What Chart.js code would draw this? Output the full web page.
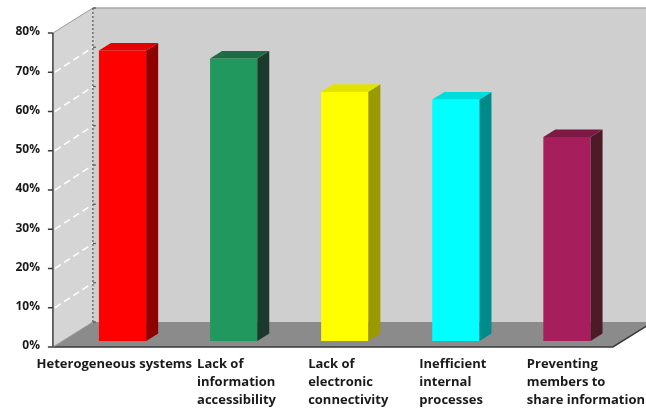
<!DOCTYPE html>
<html>
<head>
<meta charset="utf-8">
<script src="https://cdn.jsdelivr.net/npm/chart.js@4/dist/chart.umd.min.js"></script>
<style>
  html, body { margin: 0; padding: 0; background: #ffffff; }
  #chart { display: block; }
</style>
</head>
<body>
<canvas id="chart" width="646" height="412"></canvas>
<script>
// Problem categories (multi-line labels) and share of respondents (%)
const categories = [
  ['Heterogeneous systems'],
  ['Lack of', 'information', 'accessibility'],
  ['Lack of', 'electronic', 'connectivity'],
  ['Inefficient', 'internal', 'processes'],
  ['Preventing', 'members to', 'share information']
];
const values = [74, 72, 63.5, 61.5, 52];
const yTicks = [0, 10, 20, 30, 40, 50, 60, 70, 80];

// Face colours of each column: front, top, right side
const frontColors = ['#ff0000', '#21985d', '#ffff00', '#00ffff', '#a61e5c'];
const topColors   = ['#e40000', '#1c6c45', '#e2e200', '#00dcdc', '#7c1945'];
const sideColors  = ['#8f0000', '#1c3a2b', '#9a9a00', '#008a8a', '#4c1b27'];

const FONT = '"Open Sans", "Liberation Sans", sans-serif';

// Oblique projection offsets relative to the plane where the columns stand
const FRONT = { dx: -9.6, dy: 6 };    // front edge of floor / value axis
const BACK  = { dx: 30.4, dy: -19 };  // back wall
const BAR_DEPTH = { dx: 12, dy: 7.5 };

const box3d = {
  id: 'box3d',
  beforeDraw(chart) {
    const { ctx, chartArea: a, scales: { y } } = chart;
    const y0 = y.getPixelForValue(yTicks[0]);
    const yT = y.getPixelForValue(yTicks[yTicks.length - 1]);
    const L = a.left - 4.5;
    const R = a.right;
    ctx.save();

    // back wall
    ctx.fillStyle = '#cfcfcf';
    ctx.fillRect(L + BACK.dx, yT + BACK.dy, chart.width, y0 - yT);
    ctx.strokeStyle = '#a9a9a9';
    ctx.lineWidth = 1.5;
    ctx.beginPath();
    ctx.moveTo(L + BACK.dx, yT + BACK.dy);
    ctx.lineTo(chart.width, yT + BACK.dy);
    ctx.stroke();

    // left wall
    ctx.fillStyle = '#d5d5d5';
    ctx.beginPath();
    ctx.moveTo(L + FRONT.dx, y0 + FRONT.dy);
    ctx.lineTo(L + FRONT.dx, yT + FRONT.dy);
    ctx.lineTo(L + BACK.dx, yT + BACK.dy);
    ctx.lineTo(L + BACK.dx, y0 + BACK.dy);
    ctx.closePath();
    ctx.fill();
    ctx.strokeStyle = '#9a9a9a';
    ctx.lineWidth = 1;
    ctx.beginPath();
    ctx.moveTo(L + FRONT.dx, yT + FRONT.dy);
    ctx.lineTo(L + BACK.dx, yT + BACK.dy);
    ctx.stroke();

    // floor
    ctx.fillStyle = '#8b8b8b';
    ctx.beginPath();
    ctx.moveTo(L + FRONT.dx, y0 + FRONT.dy);
    ctx.lineTo(R + FRONT.dx, y0 + FRONT.dy);
    ctx.lineTo(R + BACK.dx, y0 + BACK.dy);
    ctx.lineTo(L + BACK.dx, y0 + BACK.dy);
    ctx.closePath();
    ctx.fill();
    ctx.strokeStyle = '#3a3a3a';
    ctx.lineWidth = 1.5;
    ctx.beginPath();
    ctx.moveTo(L + FRONT.dx, y0 + FRONT.dy);
    ctx.lineTo(R + FRONT.dx, y0 + FRONT.dy);
    ctx.lineTo(R + BACK.dx, y0 + BACK.dy);
    ctx.stroke();
    ctx.strokeStyle = '#9c9c9c';
    ctx.lineWidth = 1;
    ctx.beginPath();
    ctx.moveTo(L + FRONT.dx, y0 + FRONT.dy);
    ctx.lineTo(L + BACK.dx, y0 + BACK.dy);
    ctx.stroke();

    // gridlines across the left wall
    ctx.strokeStyle = '#ffffff';
    ctx.lineWidth = 1.5;
    ctx.setLineDash([7, 4]);
    yTicks.slice(1, -1).forEach(v => {
      const p = y.getPixelForValue(v);
      ctx.beginPath();
      ctx.moveTo(L + FRONT.dx + 2, p + FRONT.dy);
      ctx.lineTo(L + BACK.dx, p + BACK.dy);
      ctx.stroke();
    });

    // back wall axis (dotted) with short ticks
    ctx.strokeStyle = '#555555';
    ctx.lineWidth = 1.2;
    ctx.setLineDash([2, 2]);
    ctx.beginPath();
    ctx.moveTo(L + BACK.dx, yT + BACK.dy);
    ctx.lineTo(L + BACK.dx, y0 + BACK.dy);
    ctx.stroke();
    ctx.setLineDash([]);
    yTicks.forEach(v => {
      const p = y.getPixelForValue(v) + BACK.dy;
      ctx.beginPath();
      ctx.moveTo(L + BACK.dx, p);
      ctx.lineTo(L + BACK.dx + 3, p);
      ctx.stroke();
    });

    // front value axis
    ctx.strokeStyle = '#3c3c3c';
    ctx.lineWidth = 1.5;
    ctx.beginPath();
    ctx.moveTo(L + FRONT.dx, yT + FRONT.dy);
    ctx.lineTo(L + FRONT.dx, y0 + FRONT.dy);
    ctx.stroke();
    yTicks.forEach(v => {
      const p = y.getPixelForValue(v) + FRONT.dy;
      ctx.beginPath();
      ctx.moveTo(L + FRONT.dx - 5, p);
      ctx.lineTo(L + FRONT.dx, p);
      ctx.stroke();
    });
    ctx.restore();
  },
  afterDatasetsDraw(chart) {
    const { ctx } = chart;
    const meta = chart.getDatasetMeta(0);
    const bars = meta.data.map(bar => bar.getProps(['x', 'y', 'base', 'width'], true));
    ctx.save();
    bars.forEach(({ x: cx, y: top, base, width }, i) => {
      const l = cx - width / 2, r = cx + width / 2;
      const d = BAR_DEPTH;
      // right side
      ctx.fillStyle = sideColors[i];
      ctx.beginPath();
      ctx.moveTo(r, top);
      ctx.lineTo(r + d.dx, top - d.dy);
      ctx.lineTo(r + d.dx, base - d.dy);
      ctx.lineTo(r, base);
      ctx.closePath();
      ctx.fill();
      // top
      ctx.fillStyle = topColors[i];
      ctx.beginPath();
      ctx.moveTo(l, top);
      ctx.lineTo(l + d.dx, top - d.dy);
      ctx.lineTo(r + d.dx, top - d.dy);
      ctx.lineTo(r, top);
      ctx.closePath();
      ctx.fill();
    });

    // category labels: left-aligned blocks starting just left of each column,
    // pushed left where a block would run into its neighbour or the edge
    ctx.font = 'bold 13px ' + FONT;
    ctx.fillStyle = '#1a1a1a';
    ctx.textAlign = 'left';
    ctx.textBaseline = 'middle';
    const widths = categories.map(lines => Math.max(...lines.map(t => ctx.measureText(t).width)));
    const starts = bars.map((b, i) =>
      Math.min(b.x - b.width / 2 - 13, chart.width - widths[i] - 1));
    for (let i = starts.length - 2; i >= 0; i--) {
      starts[i] = Math.min(starts[i], starts[i + 1] - 5 - widths[i]);
    }
    categories.forEach((lines, i) => {
      lines.forEach((t, j) => ctx.fillText(t, starts[i], 364 + j * 18));
    });
    ctx.restore();
  }
};

new Chart(document.getElementById('chart'), {
  type: 'bar',
  data: {
    labels: categories,
    datasets: [{
      data: values,
      backgroundColor: frontColors,
      borderWidth: 0,
      barPercentage: 0.425,
      categoryPercentage: 1
    }]
  },
  options: {
    responsive: false,
    devicePixelRatio: 1,
    animation: false,
    layout: { padding: { left: 0, top: 27, right: 23.5, bottom: 71 } },
    plugins: { legend: { display: false }, tooltip: { enabled: false } },
    scales: {
      x: { display: false },
      y: {
        min: 0,
        max: 80,
        afterBuildTicks: s => { s.ticks = yTicks.map(v => ({ value: v })); },
        afterFit: s => { s.width = 67; s.paddingTop = 0; s.paddingBottom = 0; },
        grid: { display: false, drawTicks: false },
        border: { display: false },
        ticks: {
          padding: 27,
          labelOffset: 5,
          color: '#1a1a1a',
          font: { family: FONT, size: 12, weight: 'bold' },
          callback: v => v + '%'
        }
      }
    }
  },
  plugins: [box3d]
});
</script>
</body>
</html>
